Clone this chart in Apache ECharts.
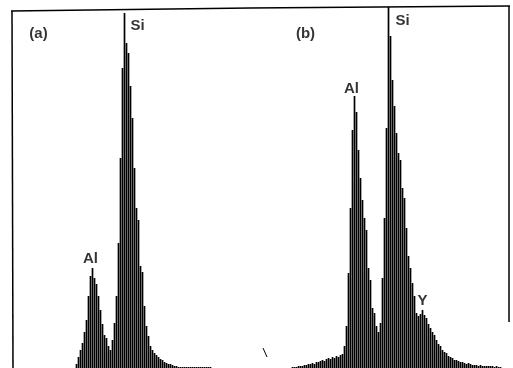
<!DOCTYPE html>
<html>
<head>
<meta charset="utf-8">
<script src="https://cdn.jsdelivr.net/npm/echarts@6/dist/echarts.min.js"></script>
<style>
html,body{margin:0;padding:0;background:#fff;}
#chart{width:513px;height:368px;}
</style>
</head>
<body>
<div id="chart"></div>
<script>
// spectrum (a): channels from 76, step 2
var startA = 76;
var countsA = [4,11,18,25,36,48,72,92,100,90,84,72,58,44,33,30,22,18,28,45,
  72,125,210,300,355,325,315,282,250,200,160,148,102,96,62,42,32,22,18,15,
  13,11,9,8,6,5,4,4,3,2,2,1,1,1,1,1,1,1,1,1,1,1,1,1,1,1,1,1];
// spectrum (b): channels from 292, step 2
var startB = 292;
var countsB = [1,1,1,2,2,2,3,3,4,4,5,4,6,6,7,8,7,9,10,9,
  11,10,12,11,13,14,22,42,95,160,238,272,256,218,190,168,150,138,100,88,
  60,55,42,36,45,90,150,240,361,332,288,262,235,215,208,180,170,140,112,100,
  85,72,55,52,54,58,53,50,44,40,36,33,28,24,22,18,16,15,12,11,
  10,8,8,7,6,6,5,4,5,4,3,3,3,2,3,2,2,2,2,2,2,1,2,1,1];
// peak labels: [channel, height, text]
var labels = [
  [38, 334, '(a)'], [137, 342, 'Si'], [90, 109, 'Al'],
  [305, 334, '(b)'], [402, 347, 'Si'], [351, 279, 'Al'], [422, 67, 'Y']
];

function toPairs(start, arr) {
  var out = [];
  for (var i = 0; i < arr.length; i++) out.push([start + i * 2, arr[i]]);
  return out;
}

var myChart = echarts.init(document.getElementById('chart'));
var option = {
  animation: false,
  backgroundColor: '#fff',
  grid: {left: 0, right: 0, top: 5, bottom: 0},
  xAxis: {type: 'value', min: -0.5, max: 512.5, show: false},
  yAxis: {type: 'value', min: 0, max: 363, show: false},
  graphic: [
    {type: 'polyline', silent: true, shape: {points: [[11, 11], [250, 8], [510, 6]]}, style: {stroke: '#000', lineWidth: 1.5, fill: null}},
    {type: 'line', silent: true, shape: {x1: 12, y1: 11, x2: 13, y2: 368}, style: {stroke: '#000', lineWidth: 1.5}},
    {type: 'line', silent: true, shape: {x1: 509, y1: 6, x2: 509, y2: 322}, style: {stroke: '#000', lineWidth: 1.5}},
    {type: 'line', silent: true, shape: {x1: 263, y1: 348, x2: 267, y2: 357}, style: {stroke: '#000', lineWidth: 1}}
  ],
  series: [
    {
      type: 'bar', barWidth: 1.7, itemStyle: {color: '#000'},
      data: toPairs(startA, countsA)
    },
    {
      type: 'bar', barWidth: 1.7, barGap: '-100%', itemStyle: {color: '#000'},
      data: toPairs(startB, countsB)
    },
    {
      type: 'scatter', symbolSize: 0,
      data: labels.map(function (l) { return {value: [l[0], l[1]], name: l[2]}; }),
      label: {
        show: true, position: 'inside', formatter: '{b}',
        color: '#000', fontFamily: 'Liberation Sans', fontWeight: 'bold', fontSize: 15
      }
    }
  ]
};
option && myChart.setOption(option);
</script>
</body>
</html>
